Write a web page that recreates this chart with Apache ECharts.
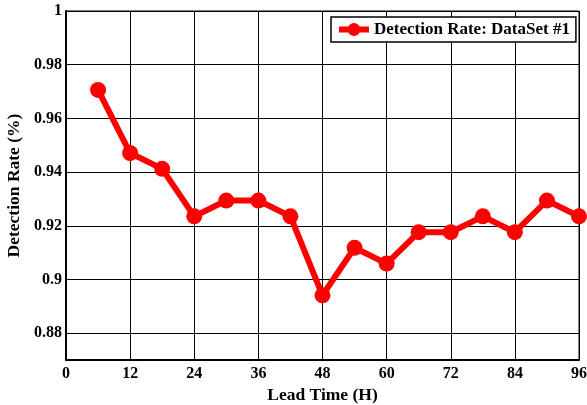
<!DOCTYPE html>
<html><head><meta charset="utf-8">
<script src="https://cdn.jsdelivr.net/npm/echarts@6/dist/echarts.min.js"></script>
<style>html,body{margin:0;padding:0;background:#fff}#c{width:587px;height:405px}</style>
</head><body><div id="c"></div>
<script>
const leadTimes = [6, 12, 18, 24, 30, 36, 42, 48, 54, 60, 66, 72, 78, 84, 90, 96];
const detectionRate = [0.9706, 0.9471, 0.9412, 0.9235, 0.9294, 0.9294, 0.9235, 0.8941, 0.9118, 0.9059, 0.9176, 0.9176, 0.9235, 0.9176, 0.9294, 0.9235];
const yTicks = [0.88, 0.90, 0.92, 0.94, 0.96, 0.98, 1.00];
const seriesName = 'Detection Rate: DataSet #1';

const font = 'Liberation Serif';
const chart = echarts.init(document.getElementById('c'), null, {renderer: 'canvas'});
chart.setOption({
  animation: false,
  backgroundColor: '#fff',
  grid: {left: 66, right: 8, top: 11, bottom: 45, containLabel: false, outerBoundsMode: 'none',
         show: true, borderColor: '#000', borderWidth: 1, backgroundColor: 'transparent'},
  legend: {
    left: 331, top: 17, orient: 'horizontal',
    itemWidth: 30, itemHeight: 16, itemGap: 4,
    padding: [4, 6, 4, 5],
    backgroundColor: '#fff', borderColor: '#000', borderWidth: 1.5,
    lineStyle: {width: 6},
    textStyle: {fontFamily: font, fontWeight: 'bold', fontSize: 17, color: '#000'},
    data: [seriesName]
  },
  xAxis: {
    type: 'value', min: 0, max: 96, interval: 12,
    name: 'Lead Time (H)', nameLocation: 'middle', nameGap: 24,
    nameTextStyle: {fontFamily: font, fontWeight: 'bold', fontSize: 17.5, color: '#000'},
    axisLine: {show: true, lineStyle: {color: '#000', width: 2}},
    axisTick: {show: true, inside: true, length: 5, lineStyle: {color: '#000'}},
    axisLabel: {fontFamily: font, fontWeight: 'bold', fontSize: 16, color: '#000', margin: 6},
    splitLine: {show: true, lineStyle: {color: '#000', width: 1}}
  },
  yAxis: {
    type: 'value', min: 0.87, max: 1,
    name: 'Detection Rate (%)', nameLocation: 'middle', nameGap: 37,
    nameTextStyle: {fontFamily: font, fontWeight: 'bold', fontSize: 17.5, color: '#000'},
    axisLine: {show: true, lineStyle: {color: '#000', width: 2}},
    axisTick: {show: true, inside: true, length: 5, customValues: yTicks, lineStyle: {color: '#000'}},
    axisLabel: {fontFamily: font, fontWeight: 'bold', fontSize: 16, color: '#000', margin: 4, customValues: yTicks},
    splitLine: {show: true, lineStyle: {color: '#000', width: 1}}
  },
  series: [{
    name: seriesName, type: 'line',
    data: leadTimes.map((x, i) => [x, detectionRate[i]]),
    symbol: 'circle', symbolSize: 16,
    lineStyle: {color: '#ff0000', width: 6},
    itemStyle: {color: '#ff0000'},
    clip: false
  }]
});
</script></body></html>
